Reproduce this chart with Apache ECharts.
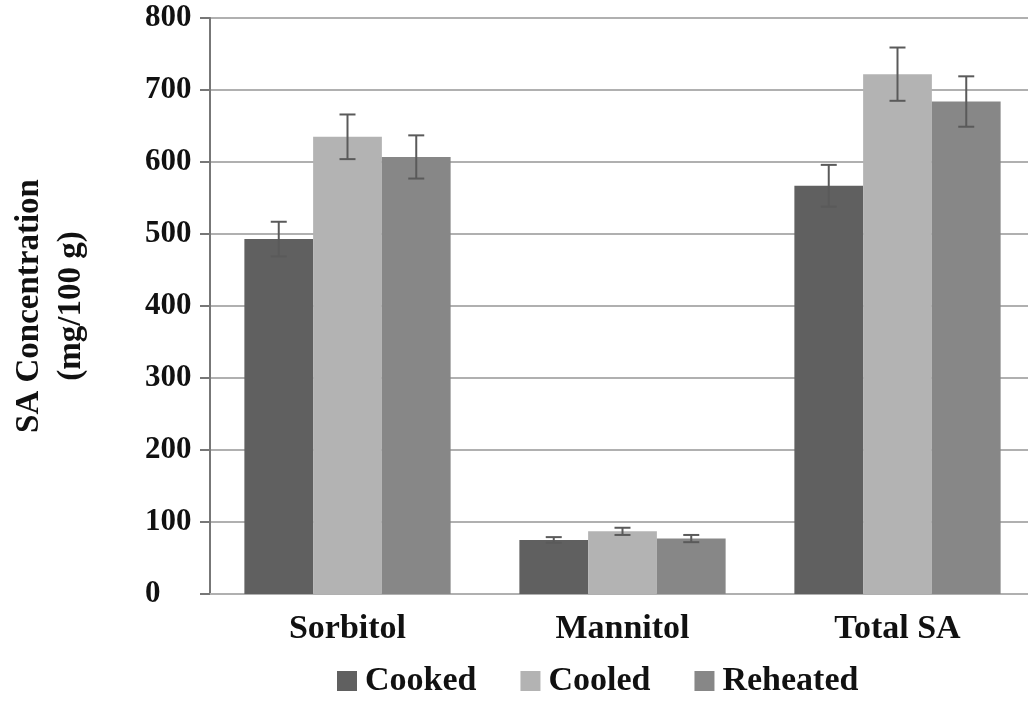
<!DOCTYPE html>
<html>
<head>
<meta charset="utf-8">
<script src="https://cdn.jsdelivr.net/npm/echarts@6/dist/echarts.min.js"></script>
<style>
  html, body { margin: 0; padding: 0; background: #fff; overflow: hidden; width: 1028px; height: 702px; }
  /* plot area runs slightly past the right edge of the page */
  #chart { width: 1040px; height: 702px; }
</style>
</head>
<body>
<div id="chart"></div>
<script>
// Sugar alcohol concentration (mg/100 g) by treatment
const categories = ['Sorbitol', 'Mannitol', 'Total SA'];
const seriesNames = ['Cooked', 'Cooled', 'Reheated'];
const cooked = [493, 75, 567];
const cookedErr = [24, 4, 29];
const cooled = [635, 87, 722];
const cooledErr = [31, 5, 37];
const reheated = [607, 77, 684];
const reheatedErr = [30, 5, 35];
const yTicks = [0, 100, 200, 300, 400, 500, 600, 700, 800];

const colors = ['#606060', '#b3b3b3', '#878787'];
const values = [cooked, cooled, reheated];
const errors = [cookedErr, cooledErr, reheatedErr];
const FONT = '"Liberation Serif", "Times New Roman", serif';
const CAT_GAP = 0.25;

// Error bars drawn at each bar's centre within its category band
function errorSeries(k) {
  const data = categories.map((c, i) => [i, values[k][i] - errors[k][i], values[k][i] + errors[k][i]]);
  return {
    type: 'custom',
    name: seriesNames[k] + ' error',
    z: 10,
    silent: true,
    data: data,
    renderItem: function (params, api) {
      const idx = api.value(0);
      const lo = api.coord([idx, api.value(1)]);
      const hi = api.coord([idx, api.value(2)]);
      const bandW = api.size([1, 0])[0];
      const barW = bandW * (1 - CAT_GAP) / 3;
      const x = lo[0] + (k - 1) * barW;
      const cap = 8;
      const style = { stroke: '#5a5a5a', lineWidth: 2, fill: null };
      return {
        type: 'group',
        children: [
          { type: 'line', shape: { x1: x, y1: lo[1], x2: x, y2: hi[1] }, style: style },
          { type: 'line', shape: { x1: x - cap, y1: hi[1], x2: x + cap, y2: hi[1] }, style: style },
          { type: 'line', shape: { x1: x - cap, y1: lo[1], x2: x + cap, y2: lo[1] }, style: style }
        ]
      };
    }
  };
}

const barSeries = seriesNames.map((name, k) => ({
  type: 'bar',
  name: name,
  data: values[k],
  barGap: '0%',
  barCategoryGap: (CAT_GAP * 100) + '%',
  itemStyle: { color: colors[k] }
}));

const chart = echarts.init(document.getElementById('chart'), null, { renderer: 'canvas' });
chart.setOption({
  animation: false,
  backgroundColor: '#ffffff',
  color: colors,
  grid: { left: 207, top: 18, width: 828, bottom: 108, containLabel: false },
  legend: {
    data: seriesNames,
    left: 332,
    top: 659,
    itemWidth: 20,
    itemHeight: 20,
    itemGap: 44,
    icon: 'rect',
    textStyle: { fontFamily: FONT, fontSize: 34, fontWeight: 'bold', color: '#111', padding: [0, 0, 0, 3] }
  },
  xAxis: {
    type: 'category',
    data: categories,
    axisLine: { show: true, lineStyle: { color: '#b0b0b0', width: 2 } },
    axisTick: { show: false },
    axisLabel: { fontFamily: FONT, fontSize: 34, fontWeight: 'bold', color: '#111', margin: 18 }
  },
  yAxis: {
    type: 'value',
    min: 0,
    max: 800,
    interval: 100,
    name: 'SA Concentration\n(mg/100 g)',
    nameLocation: 'middle',
    nameRotate: 90,
    nameGap: 118,
    nameTextStyle: { fontFamily: FONT, fontSize: 33, fontWeight: 'bold', color: '#111', lineHeight: 42 },
    axisLine: { show: true, lineStyle: { color: '#777', width: 2 } },
    axisTick: { show: true, length: 10, lineStyle: { color: '#777', width: 2 } },
    splitLine: { show: true, lineStyle: { color: '#b0b0b0', width: 2 } },
    axisLabel: {
      fontFamily: FONT, fontSize: 31, fontWeight: 'bold', color: '#111',
      align: 'left', margin: 65,
      formatter: function (v) { return yTicks.indexOf(v) >= 0 ? String(v) : ''; }
    }
  },
  series: barSeries.concat([0, 1, 2].map(errorSeries))
});
</script>
</body>
</html>
